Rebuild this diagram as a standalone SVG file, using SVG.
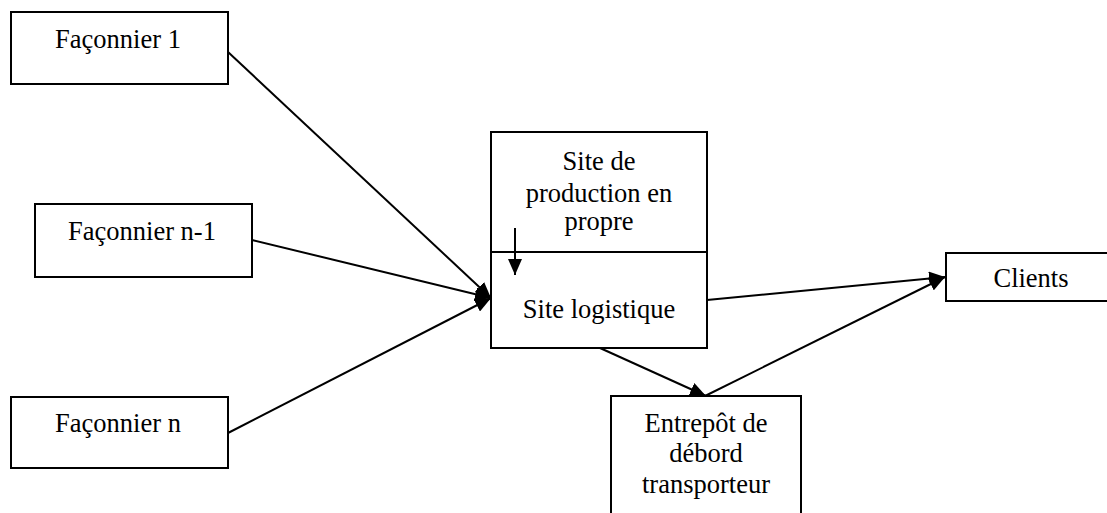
<svg xmlns="http://www.w3.org/2000/svg" width="1107" height="513" viewBox="0 0 1107 513">
<style>
.box{fill:#fff;stroke:#000;stroke-width:2}
.t{font-family:"Liberation Serif","Times New Roman",serif;font-size:26.5px;fill:#000;text-anchor:middle}
.c{stroke:#000;stroke-width:2;fill:none;marker-end:url(#ah)}
</style>
<defs>
<marker id="ah" markerUnits="userSpaceOnUse" markerWidth="18" markerHeight="14" refX="16" refY="7" orient="auto">
<path d="M0,0 L16,7 L0,14 z" fill="#000"/>
</marker>
</defs>
<rect width="1107" height="513" fill="#fff"/>
<g id="connectors">
<line class="c" x1="228" y1="52" x2="491" y2="298"/>
<line class="c" x1="252" y1="240" x2="491" y2="298"/>
<line class="c" x1="228" y1="433" x2="491" y2="298"/>
<line class="c" x1="707" y1="300" x2="945" y2="277"/>
<line class="c" x1="600" y1="348" x2="706" y2="396"/>
<line class="c" x1="705" y1="396" x2="945" y2="277"/>
</g>
<g id="faconnier1">
<rect class="box" x="11" y="12" width="217" height="72"/>
<text class="t" x="118" y="48">Façonnier 1</text>
</g>
<g id="faconnier-n-1">
<rect class="box" x="35" y="204" width="217" height="73"/>
<text class="t" x="142" y="240">Façonnier n-1</text>
</g>
<g id="faconnier-n">
<rect class="box" x="11" y="397" width="217" height="71"/>
<text class="t" x="118" y="432">Façonnier n</text>
</g>
<g id="site">
<rect class="box" x="491" y="132" width="216" height="216"/>
<line x1="491" y1="252" x2="707" y2="252" stroke="#000" stroke-width="2"/>
<text class="t" x="599" y="170">Site de</text>
<text class="t" x="599" y="202">production en</text>
<text class="t" x="599" y="230">propre</text>
<text class="t" x="599" y="318">Site logistique</text>
<line class="c" x1="515" y1="228" x2="515" y2="275"/>
</g>
<g id="clients">
<rect class="box" x="946" y="253" width="170" height="48"/>
<text class="t" x="1031" y="287">Clients</text>
</g>
<g id="entrepot">
<rect class="box" x="611" y="396" width="190" height="130"/>
<text class="t" x="706" y="432">Entrepôt de</text>
<text class="t" x="706" y="462">débord</text>
<text class="t" x="706" y="493">transporteur</text>
</g>
</svg>
